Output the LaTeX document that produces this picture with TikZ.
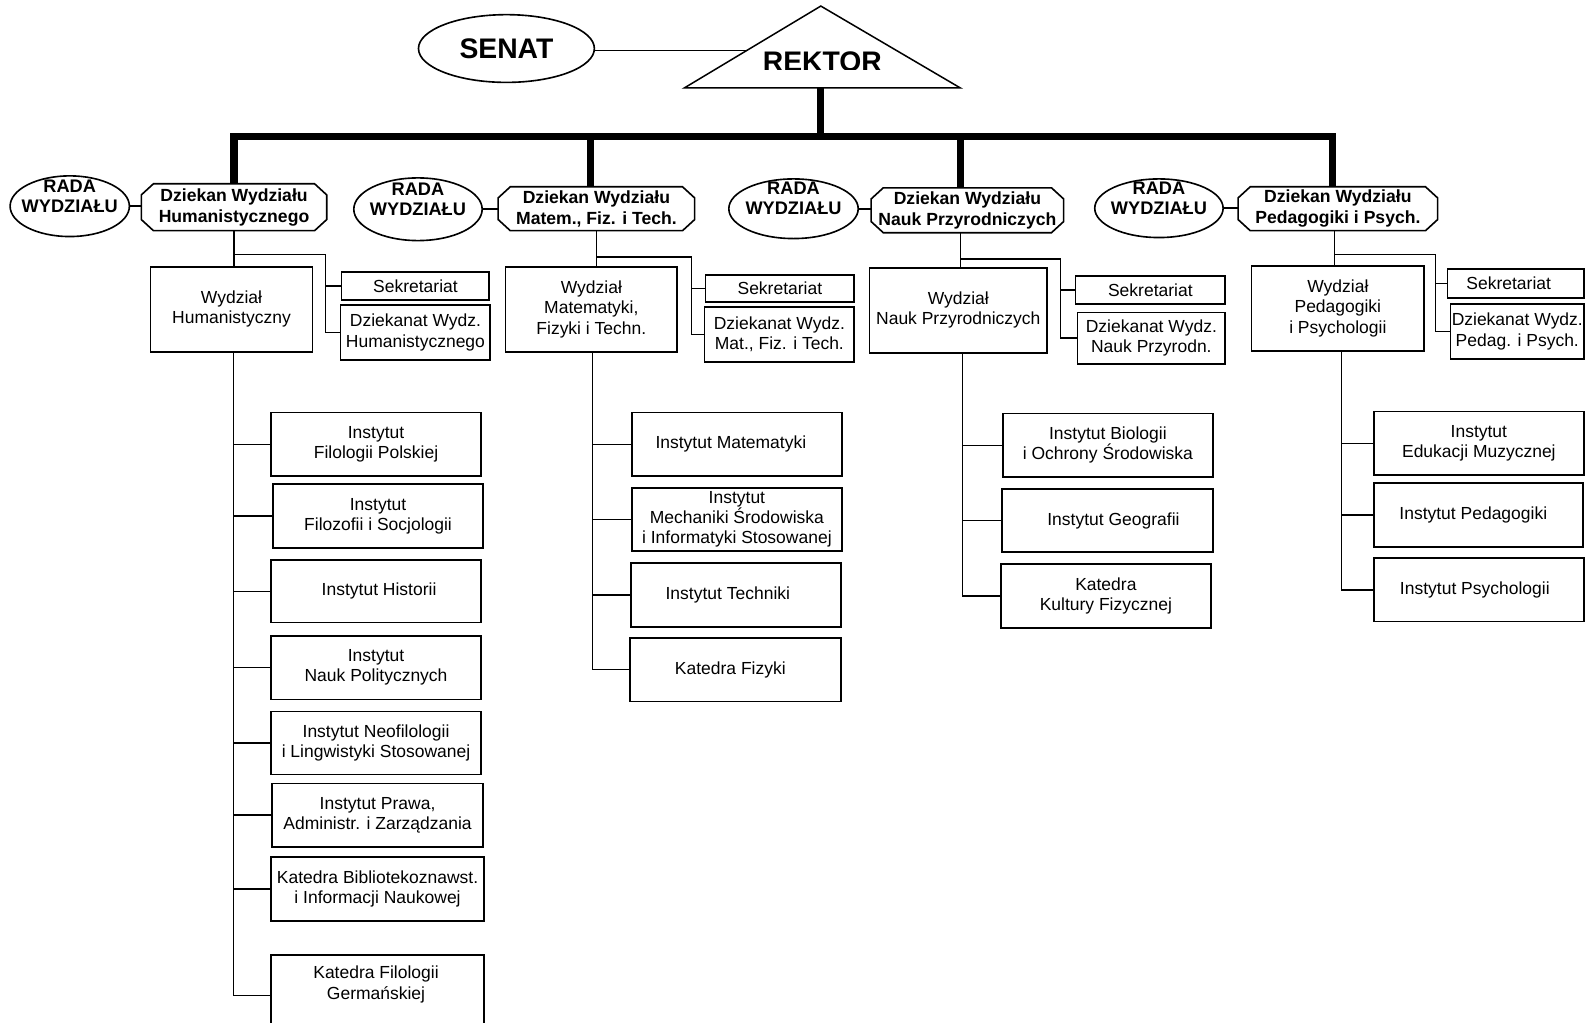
\documentclass[tikz,border=0pt]{standalone}
\usepackage{fontspec}
\setmainfont{Liberation Sans}
\usetikzlibrary{shapes.geometric}
\newcommand\fnormal{\fontsize{17.3}{20}\selectfont}
\newcommand\fbold{\bfseries\fontsize{17.4}{21}\selectfont}
\newcommand\frada{\bfseries\fontsize{18}{20}\selectfont}
\newcommand\fbig{\bfseries\fontsize{28}{30}\selectfont}
\newcommand\octbox[1]{\draw[line width=1.6pt] ([xshift=12pt]#1.north west) -- ([xshift=-12pt]#1.north east) -- ([yshift=-11pt]#1.north east) -- ([yshift=11pt]#1.south east) -- ([xshift=-12pt]#1.south east) -- ([xshift=12pt]#1.south west) -- ([yshift=11pt]#1.south west) -- ([yshift=-11pt]#1.north west) -- cycle;}
\tikzset{
  box/.style={draw, line width=1.6pt, inner sep=0pt, align=center, font=\fnormal},
  dz/.style={inner sep=0pt, align=center, font=\fbold},
  conn/.style={line width=1.5pt},
  busline/.style={line width=7pt, line join=miter},
  rada/.style={draw, ellipse, line width=1.6pt, inner sep=0pt,
    label={[yshift=10pt, align=center, font=\frada, inner sep=0pt]center:RADA\\WYDZIAŁU}},
}
\begin{document}
\begin{tikzpicture}[x=1pt, y=-1pt]
\path[fill=white, use as bounding box] (0,0) rectangle (1568,1012);

% top
\node[draw, ellipse, line width=1.6pt, minimum width=174pt, minimum height=67pt, inner sep=0pt, font=\fbig] (senat) at (501,48) {SENAT};
\draw[line width=1.5pt] (677,87) -- (812,6) -- (950,87) -- cycle;
\coordinate (rkleft) at (739,50);
\coordinate (rk) at (812,87);
\begin{scope}
  \clip (677,0) rectangle (950,68.5);
  \node[font=\fbig, inner sep=0pt] (rektor) at (813.5,61) {REKTOR};
\end{scope}
\draw[conn] (senat.east |- rkleft) -- (rkleft);

% deans
\node[dz, minimum width=183pt, minimum height=46pt] (d1) at (231.5,205) {Dziekan Wydziału\\Humanistycznego};
\node[dz, minimum width=194pt, minimum height=43pt] (d2) at (590,206.5) {Dziekan Wydziału\\Matem., Fiz. i Tech.};
\node[dz, minimum width=190pt, minimum height=44pt] (d3) at (957,208) {Dziekan Wydziału\\Nauk Przyrodniczych};
\node[dz, minimum width=197pt, minimum height=43pt] (d4) at (1323.5,206.5) {Dziekan Wydziału\\Pedagogiki i Psych.};
\octbox{d1}\octbox{d2}\octbox{d3}\octbox{d4}

% bus
\draw[busline] (rk) -- (812,135);
\draw[busline] (d1.north) -- (d1.north |- 0,135) -- (1318,135) -- (1318,0 |- d4.north);
\draw[busline] (584,135) -- (584,0 |- d2.north);
\draw[busline] (950,135) -- (950,0 |- d3.north);

% rada
\node[rada, minimum width=118pt, minimum height=60pt] (r1) at (69,204) {};
\node[rada, minimum width=127pt, minimum height=62pt] (r2) at (413.5,207) {};
\node[rada, minimum width=128pt, minimum height=59pt] (r3) at (785,206.5) {};
\node[rada, minimum width=127pt, minimum height=58pt] (r4) at (1146.5,206) {};
\draw[conn] (r1.east) -- (r1.east -| d1.west);
\draw[conn] (r2.east) -- (r2.east -| d2.west);
\draw[conn] (r3.east) -- (r3.east -| d3.west);
\draw[conn] (r4.east) -- (r4.east -| d4.west);

% faculties
\node[box, minimum width=160pt, minimum height=84pt] (w1) at (229,306) {Wydział\\Humanistyczny};
\node[box, minimum width=170pt, minimum height=84pt] (w2) at (585,306) {Wydział\\Matematyki,\\Fizyki i Techn.};
\node[box, minimum width=176pt, minimum height=84pt] (w3) at (948,307) {Wydział\\Nauk Przyrodniczych};
\node[box, minimum width=171pt, minimum height=84pt] (w4) at (1323.5,305) {Wydział\\Pedagogiki\\i Psychologii};

% secretariats
\node[box, minimum width=146pt, minimum height=28pt] (s1) at (411,283) {Sekretariat};
\node[box, minimum width=148pt, minimum height=54pt] (k1) at (411,329) {Dziekanat Wydz.\\Humanistycznego};
\node[box, minimum width=147pt, minimum height=27pt] (s2) at (771.5,285.5) {Sekretariat};
\node[box, minimum width=148pt, minimum height=54pt] (k2) at (771,331) {Dziekanat Wydz.\\Mat., Fiz. i Tech.};
\node[box, minimum width=148pt, minimum height=28pt] (s3) at (1138,287) {Sekretariat};
\node[box, minimum width=146pt, minimum height=51pt] (k3) at (1139,334.5) {Dziekanat Wydz.\\Nauk Przyrodn.};
\node[box, minimum width=135pt, minimum height=29pt] (s4) at (1499.5,280.5) {\hspace*{-14pt}Sekretariat};
\node[box, minimum width=132pt, minimum height=54pt] (k4) at (1501,328) {Dziekanat Wydz.\\Pedag. i Psych.};

% dean -> faculty / offices
\draw[conn] (d1.south) -- (d1.south |- w1.north);
\draw[conn] (d1.south |- 0,252) -| (322,0 |- k1.west) -- (k1.west);
\draw[conn] (322,0 |- s1.west) -- (s1.west);
\draw[conn] (d2.south) -- (d2.south |- w2.north);
\draw[conn] (d2.south |- 0,254) -| (684,0 |- k2.west) -- (k2.west);
\draw[conn] (684,0 |- s2.west) -- (s2.west);
\draw[conn] (950,0 |- d3.south) -- (950,0 |- w3.north);
\draw[conn] (950,256) -| (1049,0 |- k3.west) -- (k3.west);
\draw[conn] (1049,0 |- s3.west) -- (s3.west);
\draw[conn] (1320,0 |- d4.south) -- (1320,0 |- w4.north);
\draw[conn] (1320,252) -| (1420,0 |- k4.west) -- (k4.west);
\draw[conn] (1420,0 |- s4.west) -- (s4.west);

% column 1
\node[box, minimum width=208pt, minimum height=63pt] (i11) at (372,439.5) {Instytut\\Filologii Polskiej};
\node[box, minimum width=208pt, minimum height=63pt] (i12) at (374,510.5) {Instytut\\Filozofii i Socjologii};
\node[box, minimum width=208pt, minimum height=62pt] (i13) at (372,585) {\hspace*{6pt}Instytut Historii};
\node[box, minimum width=208pt, minimum height=63pt] (i14) at (372,660.5) {Instytut\\Nauk Politycznych};
\node[box, minimum width=208pt, minimum height=62pt] (i15) at (372,735) {Instytut Neofilologii\\i Lingwistyki Stosowanej};
\node[box, minimum width=209pt, minimum height=63pt] (i16) at (373.5,806.5) {Instytut Prawa,\\Administr. i Zarządzania};
\node[box, minimum width=211pt, minimum height=63pt] (i17) at (373.5,879.5) {Katedra Bibliotekoznawst.\\i Informacji Naukowej};
\node[box, minimum width=211pt, minimum height=80pt] (i18) at (373.5,985) {};
\node[align=center, font=\fnormal, inner sep=0pt] (i18t) at (372,974) {Katedra Filologii\\Germańskiej};
\draw[conn] (231,0 |- w1.south) -- (231,0 |- i18.west) -- (i18.west);
\foreach \n in {i11,i12,i13,i14,i15,i16,i17}{\draw[conn] (231,0 |- \n.west) -- (\n.west);}

% column 2
\node[box, minimum width=208pt, minimum height=63pt] (i21) at (729,439.5) {Instytut Matematyki\hspace*{12pt}};
\node[box, minimum width=208pt, minimum height=62pt] (i22) at (729,514) {Instytut\\Mechaniki Środowiska\\i Informatyki Stosowanej};
\node[box, minimum width=208pt, minimum height=63pt] (i23) at (728,588.5) {Instytut Techniki\hspace*{16pt}};
\node[box, minimum width=209pt, minimum height=63pt] (i24) at (727.5,662.5) {Katedra Fizyki\hspace*{10pt}};
\draw[conn] (586,0 |- w2.south) -- (586,0 |- i24.west) -- (i24.west);
\foreach \n in {i21,i22,i23}{\draw[conn] (586,0 |- \n.west) -- (\n.west);}

% column 3
\node[box, minimum width=208pt, minimum height=63pt] (i31) at (1096,440.5) {Instytut Biologii\\i Ochrony Środowiska};
\node[box, minimum width=209pt, minimum height=62pt] (i32) at (1095.5,515) {\hspace*{12pt}Instytut Geografii};
\node[box, minimum width=208pt, minimum height=63pt] (i33) at (1094,589.5) {Katedra\\Kultury Fizycznej};
\draw[conn] (952,0 |- w3.south) -- (952,0 |- i33.west) -- (i33.west);
\foreach \n in {i31,i32}{\draw[conn] (952,0 |- \n.west) -- (\n.west);}

% column 4
\node[box, minimum width=208pt, minimum height=63pt] (i41) at (1463,438.5) {Instytut\\Edukacji Muzycznej};
\node[box, minimum width=207pt, minimum height=63pt] (i42) at (1462.5,509.5) {Instytut Pedagogiki\hspace*{10pt}};
\node[box, minimum width=208pt, minimum height=63pt] (i43) at (1463,583.5) {Instytut Psychologii\hspace*{8pt}};
\draw[conn] (1327,0 |- w4.south) -- (1327,0 |- i43.west) -- (i43.west);
\foreach \n in {i41,i42}{\draw[conn] (1327,0 |- \n.west) -- (\n.west);}
\end{tikzpicture}
\end{document}
